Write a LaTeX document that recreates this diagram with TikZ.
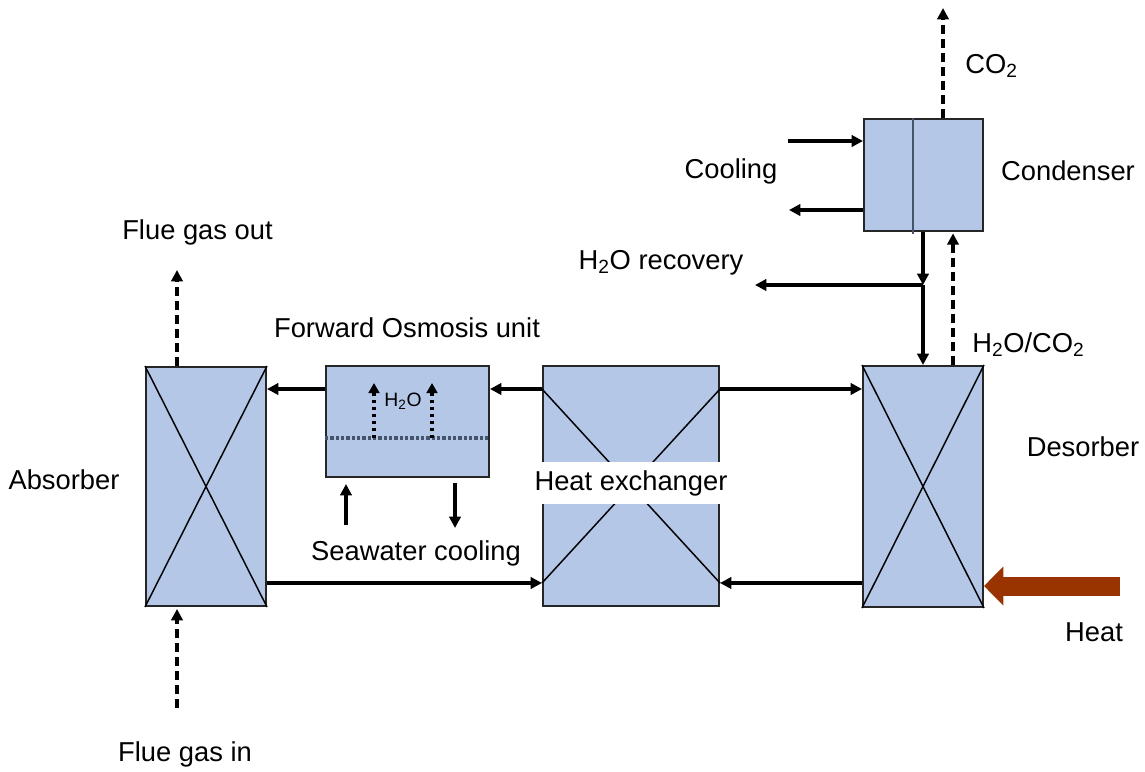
\documentclass[tikz,border=0pt]{standalone}
\usepackage{fontspec}
\setmainfont{Liberation Sans}
\usetikzlibrary{arrows.meta}
\definecolor{boxblue}{HTML}{B4C7E7}
\definecolor{slate}{HTML}{44546A}
\definecolor{heatbrown}{HTML}{993300}
\tikzset{
  unitbox/.style={draw=black!85, line width=1.5pt, fill=boxblue, inner sep=0pt},
  crossline/.style={draw=black, line width=1.1pt},
  flow/.style={draw=black, line width=3pt, -{Triangle[length=8.5pt,width=8.5pt]}},
  gas/.style={flow, dash pattern=on 7pt off 3.5pt},
  dotflow/.style={draw=black, line width=2.6pt, dash pattern=on 2.6pt off 2.6pt, -{Triangle[length=7.5pt,width=8pt]}},
  membrane/.style={draw=slate, line width=2.4pt, dash pattern=on 2.4pt off 1.6pt},
  lbl/.style={inner sep=0pt, text=black},
  heatarrow/.style={draw=heatbrown, line width=14.25pt, -{Triangle[length=14.5pt,width=28.5pt]}},
}
\begin{document}
\begin{tikzpicture}[x=0.75pt, y=-0.75pt, font=\fontsize{20.5}{24}\selectfont]
\useasboundingbox (0,0) rectangle (1145,771);

% units
\node[unitbox, minimum width=90pt, minimum height=179.25pt] (abs) at (206,486.5) {};
\node[unitbox, minimum width=122.25pt, minimum height=83.25pt] (fo) at (407.5,421.5) {};
\node[unitbox, minimum width=132pt, minimum height=180pt] (hx) at (631,486) {};
\node[unitbox, minimum width=90pt, minimum height=180.75pt] (des) at (923,486.5) {};
\node[unitbox, minimum width=89.25pt, minimum height=84pt] (cond) at (923.5,175) {};

% helper rows
\coordinate (r1) at (0,389);
\coordinate (r2) at (0,583);
\coordinate (mrow) at (0,438);

% crosses
\draw[crossline] (abs.north west) -- (abs.south east);
\draw[crossline] (abs.north east) -- (abs.south west);
\draw[crossline] (des.north west) -- (des.south east);
\draw[crossline] (des.north east) -- (des.south west);
\draw[crossline] (hx.west |- r1) -- (hx.east |- r2);
\draw[crossline] (hx.east |- r1) -- (hx.west |- r2);

% condenser divider
\coordinate (dv) at (913,0);
\draw[slate, line width=1.6pt] (cond.north -| dv) -- ([yshift=-1.5pt]cond.south -| dv);

% FO membrane and permeate
\draw[membrane] (fo.west |- mrow) -- (fo.east |- mrow);
\coordinate (d1b) at (374,438);
\coordinate (d1t) at (374,383);
\coordinate (d2b) at (432,438);
\coordinate (d2t) at (432,383);
\draw[dotflow] (d1b) -- (d1t);
\draw[dotflow] (d2b) -- (d2t);
\node[lbl, font=\fontsize{14.5}{16}\selectfont] (h2ofo) at (403,401) {H\textsubscript{2}O};

% main liquid loop
\draw[flow] (fo.west |- r1) -- (abs.east |- r1);
\draw[flow] (hx.west |- r1) -- (fo.east |- r1);
\draw[flow] (hx.east |- r1) -- (des.west |- r1);
\draw[flow] (abs.east |- r2) -- (hx.west |- r2);
\draw[flow] (des.west |- r2) -- (hx.east |- r2);

% flue gas
\coordinate (fgo) at (177,270);
\coordinate (fgi) at (177,708);
\draw[gas] (abs.north -| fgo) -- (fgo);
\draw[gas] (fgi) -- ([yshift=-1.5pt]abs.south -| fgi);

% seawater
\coordinate (swi) at (346,525);
\coordinate (swo) at (455,528);
\draw[flow, shorten >=4.5pt] (swi) -- (fo.south -| swi);
\draw[flow, shorten <=3.5pt] (fo.south -| swo) -- (swo);

% condenser streams
\coordinate (cin) at (788,141);
\coordinate (cout) at (789,210);
\draw[flow] (cin) -- (cond.west |- cin);
\draw[flow] (cond.west |- cout) -- (cout);
\coordinate (co2t) at (943,8);
\draw[gas] (cond.north -| co2t) -- (co2t);
\coordinate (jn) at (923,285);
\coordinate (rec) at (755,285);
\draw[flow] (cond.south -| jn) -- (jn);
\draw[flow] (jn) -- (des.north -| jn);
\draw[flow] (jn) -- (rec);
\coordinate (vap) at (953,0);
\draw[gas] (des.north -| vap) -- ([yshift=-1pt]cond.south -| vap);

% heat input
\coordinate (hsrc) at (1120,586);
\draw[heatarrow] (hsrc) -- (des.east |- hsrc);

% labels
\node[lbl] (lfgo) at (197.5,232) {Flue gas out};
\node[lbl] (lfo) at (407,328) {Forward Osmosis unit};
\node[lbl] (labs) at (64,480) {Absorber};
\node[lbl] (lsw) at (416,553) {Seawater cooling};
\node[lbl, fill=white, inner xsep=5pt, inner ysep=6pt] (lhx) at (631,483) {Heat exchanger};
\node[lbl] (ldes) at (1083,447) {Desorber};
\node[lbl] (lheat) at (1094,632) {Heat};
\node[lbl] (lfgi) at (185,754) {Flue gas in};
\node[lbl] (lcool) at (731,171) {Cooling};
\node[lbl] (lcond) at (1068,171) {Condenser};
\node[lbl, anchor=west] (lco2) at (965,66) {CO\textsubscript{2}};
\node[lbl] (lrec) at (661,263) {H\textsubscript{2}O recovery};
\node[lbl, anchor=west] (lvap) at (972,345) {H\textsubscript{2}O/CO\textsubscript{2}};
\end{tikzpicture}
\end{document}
